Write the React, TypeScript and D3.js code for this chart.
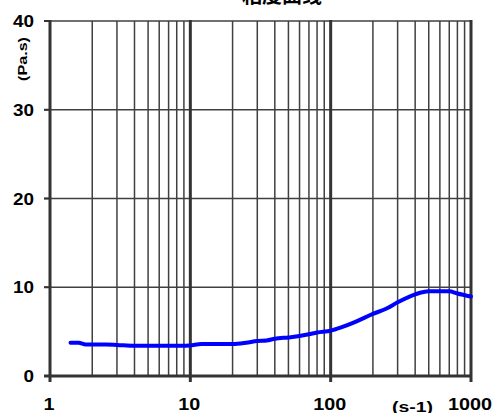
import React from "react";
import * as d3 from "d3";

const shearRate = [1.4, 1.6, 1.8, 2.5, 3, 4, 6, 9, 10, 12, 15, 20, 25, 30, 35, 40, 50, 60, 70, 80, 100, 120, 150, 200, 250, 300, 400, 500, 600, 700, 800, 1000];
const viscosity = [3.75, 3.75, 3.55, 3.55, 3.5, 3.4, 3.4, 3.4, 3.45, 3.6, 3.6, 3.6, 3.75, 3.95, 4.0, 4.2, 4.35, 4.5, 4.7, 4.9, 5.1, 5.5, 6.1, 7.0, 7.6, 8.3, 9.2, 9.55, 9.55, 9.55, 9.3, 8.95];
const yTicks = [0, 10, 20, 30, 40];
const xDecades = [1, 10, 100, 1000];
const title = "粘度曲线";
const yUnit = "(Pa.s)";
const xUnit = "(s-1)";

export default function App() {
  const W = 494, H = 413;
  const x = d3.scaleLog().domain([1, 1000]).range([50, 471]);
  const y = d3.scaleLinear().domain([0, 40]).range([376, 21]);
  const minor: number[] = [];
  [1, 10, 100].forEach((d) => {
    for (let k = 2; k <= 9; k++) minor.push(d * k);
  });
  const line = d3
    .line<number>()
    .x((_, i) => x(shearRate[i]))
    .y((v) => y(v))
    .curve(d3.curveMonotoneX);
  const font = "Arial, 'Liberation Sans', sans-serif";
  return (
    <svg width={W} height={H} style={{ position: "absolute", left: 0, top: 0, background: "#fff" }}>
      <text x={282} y={3} textAnchor="middle" fontFamily="'Noto Sans CJK SC', sans-serif" fontWeight="bold" fontSize={20} fill="#000">
        {title}
      </text>
      {yTicks.filter((t) => t > 0).map((t) => (
        <line key={"h" + t} x1={44} x2={471} y1={y(t)} y2={y(t)} stroke="#404040" strokeWidth={1.5} />
      ))}
      {minor.map((m) => (
        <line key={"m" + m} x1={x(m)} x2={x(m)} y1={y(40)} y2={y(0)} stroke="#404040" strokeWidth={1.5} />
      ))}
      {xDecades.filter((d) => d > 1).map((d) => (
        <line key={"d" + d} x1={x(d)} x2={x(d)} y1={y(40) - 1} y2={y(0) + 6} stroke="#333" strokeWidth={3} />
      ))}
      {yTicks.map((t) => (
        <line key={"yt" + t} x1={44} x2={50} y1={y(t)} y2={y(t)} stroke="#333" strokeWidth={2} />
      ))}
      <line x1={x(1)} x2={x(1)} y1={y(40) - 1} y2={y(0) + 6} stroke="#333" strokeWidth={3} />
      <line x1={44} x2={472} y1={y(0)} y2={y(0)} stroke="#333" strokeWidth={3} />
      <path d={line(viscosity) || ""} fill="none" stroke="#0000ff" strokeWidth={4} strokeLinecap="round" />
      {yTicks.map((t) => (
        <text key={"yl" + t} x={34} y={y(t) + 6} textAnchor="end" fontFamily={font} fontWeight="bold" fontSize={17}
          textLength={String(t).length * 10.5} lengthAdjust="spacingAndGlyphs" fill="#000">
          {t}
        </text>
      ))}
      {xDecades.map((d) => (
        <text key={"xl" + d} x={x(d) - 1} y={409.5} textAnchor="middle" fontFamily={font} fontWeight="bold" fontSize={17}
          textLength={String(d).length * 11} lengthAdjust="spacingAndGlyphs" fill="#000">
          {d}
        </text>
      ))}
      <text x={412.5} y={412} textAnchor="middle" fontFamily={font} fontWeight="bold" fontSize={14}
        textLength={41} lengthAdjust="spacingAndGlyphs" fill="#000">
        {xUnit}
      </text>
      <text transform={`translate(27,59) rotate(-90)`} textAnchor="middle" fontFamily={font} fontWeight="bold" fontSize={13}
        textLength={44} lengthAdjust="spacingAndGlyphs" fill="#000">
        {yUnit}
      </text>
    </svg>
  );
}
